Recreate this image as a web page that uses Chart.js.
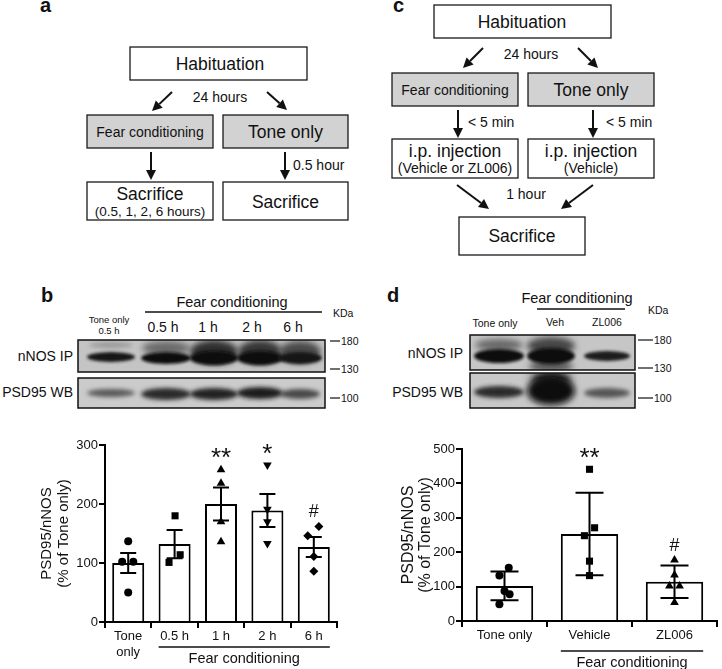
<!DOCTYPE html>
<html>
<head>
<meta charset="utf-8">
<script src="https://cdn.jsdelivr.net/npm/chart.js@4.4.0/dist/chart.umd.min.js"></script>
<style>
  body { margin: 0; background: #fff; width: 722px; height: 669px; position: relative; overflow: hidden;
         font-family: "Liberation Sans", Arial, sans-serif; }
  #fig { position: absolute; left: 0; top: 0; }
  .cv { position: absolute; top: 430px; }
</style>
</head>
<body>
<svg id="fig" width="722" height="669" font-family="Liberation Sans, Arial, sans-serif"></svg>
<canvas id="chartB" class="cv" width="361" height="239" style="left:0"></canvas>
<canvas id="chartD" class="cv" width="361" height="239" style="left:361px"></canvas>
<script>
// ---- data, panel b (mean ± SEM) ----
const bLabels = [['Tone', 'only'], '0.5 h', '1 h', '2 h', '6 h'];
const bMeans = [100, 132, 200, 189, 127];
const bErr = [17, 24, 28, 28, 17];
const bTone = [137, 102, 102, 50];
const bHalf = [180, 114, 101];
const bOne = [258, 235, 170, 136];
const bTwo = [266, 191, 170, 133];
const bSix = [162, 146, 111, 86];
const bSig = ['', '', '**', '*', '#'];
// small horizontal scatter of the dots, in category units
const bToneJit = [0, -0.13, 0.11, 0];
const bHalfJit = [0.01, 0.12, -0.12];
const bOneJit = [0, 0, 0, 0];
const bTwoJit = [0, 0, 0, 0];
const bSixJit = [0.11, -0.13, 0, 0];

// ---- data, panel d (mean ± SD) ----
const dLabels = ['Tone only', 'Vehicle', 'ZL006'];
const dMeans = [102, 253, 114];
const dErr = [42, 120, 47];
const dTone = [155, 132, 87, 78, 49];
const dVeh = [441, 271, 248, 174, 132];
const dZl = [177, 134, 102, 102, 54];
const dSig = ['', '**', '#'];
const dToneJit = [0.05, -0.06, 0, 0.06, -0.06];
const dVehJit = [0, 0.06, -0.06, 0, 0];
const dZlJit = [0, 0, -0.06, 0.06, 0];

// ---------- static parts: flow charts and blots ----------
const NS = 'http://www.w3.org/2000/svg';
const svg = document.getElementById('fig');
const INK = '#111';
const GREY = '#d2d2d2';

function el(tag, attrs, parent) {
    const e = document.createElementNS(NS, tag);
    for (const k in attrs) e.setAttribute(k, attrs[k]);
    (parent || svg).appendChild(e);
    return e;
}
function txt(x, y, s, size, anchor, bold) {
    const t = el('text', { x: x, y: y, 'font-size': size, 'text-anchor': anchor || 'middle',
        'dominant-baseline': 'central', 'font-weight': bold ? 'bold' : 'normal', fill: INK });
    t.textContent = s;
    return t;
}
function box(x1, y1, x2, y2, fill) {
    el('rect', { x: x1, y: y1, width: x2 - x1, height: y2 - y1, fill: fill || '#fff', stroke: '#1a1a1a', 'stroke-width': 1.3 });
}
function arrow(x1, y1, x2, y2) {
    const a = Math.atan2(y2 - y1, x2 - x1), L = 10, W = 5;
    const bx = x2 - L * Math.cos(a), by = y2 - L * Math.sin(a);
    el('line', { x1: x1, y1: y1, x2: bx, y2: by, stroke: INK, 'stroke-width': 2 });
    el('polygon', { points: x2 + ',' + y2 + ' ' + (bx - W * Math.sin(a)) + ',' + (by + W * Math.cos(a)) + ' ' +
        (bx + W * Math.sin(a)) + ',' + (by - W * Math.cos(a)), fill: INK });
}
function hline(x1, x2, y, w) {
    el('line', { x1: x1, y1: y, x2: x2, y2: y, stroke: INK, 'stroke-width': w || 1.5 });
}

// panel a
txt(40, 5, 'a', 20, 'start', true);
box(130, 47, 307, 80); txt(220, 64, 'Habituation', 17.5);
txt(220, 97, '24 hours', 14);
arrow(172, 92, 152, 111); arrow(267, 92, 287, 110);
box(87, 115, 213, 148, GREY); txt(150, 132, 'Fear conditioning', 14);
box(223, 115, 348, 148, GREY); txt(285.5, 132, 'Tone only', 17.5);
arrow(151, 152, 151, 180); arrow(285, 152, 285, 180);
txt(293, 165, '0.5 hour', 14, 'start');
box(87, 182, 213, 220); txt(150, 194, 'Sacrifice', 17.5); txt(150, 211, '(0.5, 1, 2, 6 hours)', 13.5);
box(223, 182, 348, 220); txt(285.5, 202, 'Sacrifice', 17.5);

// panel c
txt(393, 5, 'c', 20, 'start', true);
box(434, 5, 611, 38); txt(522, 22, 'Habituation', 17.5);
txt(531, 54, '24 hours', 14);
arrow(483, 48, 463, 68); arrow(578, 48, 598, 68);
box(392, 73, 518, 106, GREY); txt(455, 90, 'Fear conditioning', 14);
box(528, 73, 654, 106, GREY); txt(591, 90, 'Tone only', 17.5);
arrow(458, 110, 458, 138); txt(468, 122, '< 5 min', 14, 'start');
arrow(593, 110, 593, 138); txt(606, 122, '< 5 min', 14, 'start');
box(392, 139, 518, 178); txt(455, 151, 'i.p. injection', 17.5); txt(455, 168, '(Vehicle or ZL006)', 14);
box(528, 139, 654, 178); txt(591, 151, 'i.p. injection', 17.5); txt(591, 168, '(Vehicle)', 14);
txt(526, 194, '1 hour', 14);
arrow(457, 185, 489, 209); arrow(593, 185, 561, 209);
box(459, 217, 585, 255); txt(522, 236, 'Sacrifice', 17.5);

// blot images (drawn, not data)
const defs = el('defs', {});
let clipN = 0;
function blot(x1, y1, x2, y2, bg, bands) {
    const id = 'clip' + (clipN++);
    const cp = el('clipPath', { id: id }, defs);
    el('rect', { x: x1, y: y1, width: x2 - x1, height: y2 - y1 }, cp);
    const g = el('g', { 'clip-path': 'url(#' + id + ')' });
    el('rect', { x: x1, y: y1, width: x2 - x1, height: y2 - y1, fill: bg }, g);
    for (const b of bands) {
        const fid = 'blur' + (clipN++);
        const f = el('filter', { id: fid, x: '-50%', y: '-50%', width: '200%', height: '200%' }, defs);
        el('feGaussianBlur', { stdDeviation: b[5] }, f);
        el('ellipse', { cx: b[0], cy: b[1], rx: b[2], ry: b[3], fill: b[4], filter: 'url(#' + fid + ')' }, g);
    }
    el('rect', { x: x1, y: y1, width: x2 - x1, height: y2 - y1, fill: 'none', stroke: '#111', 'stroke-width': 1.5 });
}
function marker(x1, x2, y, label) {
    hline(x1, x2, y, 1.2);
    txt(x2 + 1, y, label, 10.5, 'start');
}

// panel b blot
txt(41, 295, 'b', 20, 'start', true);
txt(232, 302, 'Fear conditioning', 14.5);
hline(145, 322, 312);
txt(333, 313, 'KDa', 10.5, 'start');
txt(109, 319, 'Tone only', 9.5); txt(109, 330, '0.5 h', 9.5);
txt(163, 327, '0.5 h', 14); txt(208, 327, '1 h', 14); txt(252, 327, '2 h', 14); txt(293, 327, '6 h', 14);
blot(78, 340, 325, 372, '#c4c4c4', [
    [111, 345, 22, 3, '#999', 2],
    [166, 348, 24, 7, '#6a6a6a', 3], [214, 352, 24, 12, '#2e2e2e', 3], [260, 352, 22, 12, '#353535', 3], [300, 352, 21, 11, '#4a4a4a', 3],
    [111, 357, 24, 5, '#151515', 1.5], [166, 358, 25, 6, '#111', 1.5], [214, 358, 24, 7, '#0a0a0a', 1.5],
    [260, 358, 23, 7, '#0d0d0d', 1.5], [300, 358, 22, 6, '#151515', 1.5]
]);
blot(78, 378, 325, 408, '#cbcbcb', [
    [111, 393, 24, 4, '#5a5a5a', 2], [166, 394, 25, 6, '#2a2a2a', 2], [214, 394, 24, 6, '#222', 2],
    [260, 393, 23, 6, '#1a1a1a', 2], [300, 394, 20, 5, '#4a4a4a', 2]
]);
txt(73, 356, 'nNOS IP', 14, 'end'); txt(73, 392, 'PSD95 WB', 14, 'end');
marker(330, 340, 341, '180'); marker(330, 340, 369, '130'); marker(330, 340, 398, '100');

// panel d blot
txt(387, 295, 'd', 20, 'start', true);
txt(577, 298, 'Fear conditioning', 14.5);
hline(537, 625, 309);
txt(648, 310, 'KDa', 10.5, 'start');
txt(495, 323, 'Tone only', 10.5); txt(555, 322, 'Veh', 10.5); txt(607, 322, 'ZL006', 10.5);
blot(470, 335, 635, 370, '#c6c6c6', [
    [499, 345, 24, 6, '#666', 3], [551, 346, 24, 9, '#444', 3], [551, 366, 22, 6, '#555', 3],
    [499, 356, 25, 7, '#111', 1.5], [551, 356, 24, 8, '#0a0a0a', 1.5], [607, 356, 23, 5, '#1a1a1a', 1.5]
]);
blot(470, 373, 635, 408, '#c8c8c8', [
    [551, 380, 20, 10, '#222', 4],
    [499, 392, 25, 6, '#2a2a2a', 2], [551, 391, 24, 14, '#0a0a0a', 3], [607, 393, 23, 5, '#555', 2]
]);
txt(463, 353, 'nNOS IP', 14, 'end'); txt(463, 392, 'PSD95 WB', 14, 'end');
marker(638, 653, 340, '180'); marker(638, 653, 368, '130'); marker(638, 653, 398, '100');

// ---------- charts ----------
Chart.defaults.font.family = '"Liberation Sans", Arial, sans-serif';
Chart.defaults.color = '#111';

// mean and error bar with caps
const errorBars = {
    id: 'errorBars',
    afterDatasetsDraw(chart, args, opts) {
        const { ctx, scales: { x, y } } = chart;
        ctx.save();
        ctx.strokeStyle = '#000';
        ctx.lineWidth = 2;
        opts.means.forEach((m, i) => {
            const px = x.getPixelForValue(i);
            const top = y.getPixelForValue(m + opts.err[i]);
            const bot = y.getPixelForValue(m - opts.err[i]);
            ctx.beginPath();
            ctx.moveTo(px, top); ctx.lineTo(px, bot);
            ctx.moveTo(px - opts.cap, top); ctx.lineTo(px + opts.cap, top);
            ctx.moveTo(px - opts.cap, bot); ctx.lineTo(px + opts.cap, bot);
            ctx.stroke();
        });
        ctx.restore();
    }
};

// significance marks above the highest dot, and the "Fear conditioning" bracket
const extras = {
    id: 'extras',
    afterDraw(chart, args, opts) {
        const { ctx, scales: { x, y } } = chart;
        ctx.save();
        ctx.fillStyle = '#111';
        ctx.textAlign = 'center';
        ctx.textBaseline = 'alphabetic';
        opts.sig.forEach((s, i) => {
            if (!s) return;
            const top = y.getPixelForValue(Math.max(...opts.groups[i]));
            if (s === '#') {
                ctx.font = '18px "Liberation Sans", Arial, sans-serif';
                ctx.fillText(s, x.getPixelForValue(i), top - 9);
            } else {
                ctx.font = '26px "Liberation Sans", Arial, sans-serif';
                ctx.fillText(s, x.getPixelForValue(i), top - 3.5);
            }
        });
        const bars = chart.getDatasetMeta(chart.data.datasets.length - 1).data;
        const first = bars[opts.from], last = bars[bars.length - 1];
        const x1 = first.x - first.width / 2, x2 = last.x + last.width / 2;
        const ly = x.top + opts.lineGap;
        ctx.strokeStyle = '#111';
        ctx.lineWidth = 1.5;
        ctx.beginPath(); ctx.moveTo(x1, ly); ctx.lineTo(x2, ly); ctx.stroke();
        ctx.font = '14.5px "Liberation Sans", Arial, sans-serif';
        ctx.textBaseline = 'middle';
        ctx.fillText('Fear conditioning', (x1 + x2) / 2, ly + 12);
        ctx.restore();
    }
};

function pointSet(vals, jit, i, style, r, rot) {
    return {
        type: 'scatter', order: 1,
        data: vals.map((v, k) => ({ x: i + jit[k], y: v })),
        pointStyle: style, pointRadius: r, pointRotation: rot || 0,
        backgroundColor: '#000', borderColor: '#000', borderWidth: 0
    };
}

function makeChart(id, cfg) {
    const n = cfg.labels.length;
    const axisGrid = { drawOnChartArea: false, drawTicks: true, tickLength: 6, color: '#000', lineWidth: 2 };
    return new Chart(document.getElementById(id), {
        type: 'bar',
        data: {
            datasets: cfg.points.concat([{
                type: 'bar', order: 2, grouped: false,
                data: cfg.means.map((m, i) => ({ x: i, y: m })),
                backgroundColor: '#fff', borderColor: '#000', borderWidth: 2, borderSkipped: 'bottom',
                barPercentage: cfg.barPct, categoryPercentage: 1
            }])
        },
        options: {
            responsive: false,
            animation: false,
            layout: { padding: cfg.padding },
            scales: {
                x: {
                    type: 'linear', min: -0.5, max: n - 0.5, offset: false,
                    grid: axisGrid,
                    border: { color: '#000', width: 2 },
                    ticks: { color: '#111', font: { size: 13 }, padding: 1, maxRotation: 0, autoSkip: false,
                             callback: v => cfg.labels[v] },
                    afterBuildTicks: s => { s.ticks = cfg.labels.map((_, i) => ({ value: i })); },
                    afterFit: s => { s.height = cfg.xHeight; }
                },
                y: {
                    min: 0, max: cfg.yMax,
                    grid: axisGrid,
                    border: { color: '#000', width: 2 },
                    ticks: { stepSize: 100, color: '#111', font: { size: 13 }, padding: 1 },
                    title: {
                        display: true, text: ['PSD95/nNOS', '(% of Tone only)'], color: '#111',
                        font: { size: cfg.titleSize, lineHeight: 1.1 }, padding: { top: cfg.titlePad, bottom: 0 }
                    },
                    afterFit: s => { s.width = cfg.yWidth; }
                }
            },
            plugins: {
                legend: { display: false },
                tooltip: { enabled: false },
                errorBars: { means: cfg.means, err: cfg.err, cap: cfg.cap },
                extras: { sig: cfg.sig, groups: cfg.groups, from: 1, lineGap: cfg.lineGap }
            }
        },
        plugins: [errorBars, extras]
    });
}

makeChart('chartB', {
    labels: bLabels, means: bMeans, err: bErr, sig: bSig,
    groups: [bTone, bHalf, bOne, bTwo, bSix],
    points: [
        pointSet(bTone, bToneJit, 0, 'circle', 4),
        pointSet(bHalf, bHalfJit, 1, 'rect', 5),
        pointSet(bOne, bOneJit, 2, 'triangle', 5),
        pointSet(bTwo, bTwoJit, 3, 'triangle', 5, 180),
        pointSet(bSix, bSixJit, 4, 'rectRot', 4.5)
    ],
    yMax: 300, barPct: 0.69, cap: 8,
    padding: { top: 15, right: 24, bottom: 0, left: 0 },
    xHeight: 47, yWidth: 105, titleSize: 15, titlePad: 39, lineGap: 25
});

makeChart('chartD', {
    labels: dLabels, means: dMeans, err: dErr, sig: dSig,
    groups: [dTone, dVeh, dZl],
    points: [
        pointSet(dTone, dToneJit, 0, 'circle', 4),
        pointSet(dVeh, dVehJit, 1, 'rect', 5),
        pointSet(dZl, dZlJit, 2, 'triangle', 5)
    ],
    yMax: 500, barPct: 0.675, cap: 14,
    padding: { top: 19, right: 2, bottom: 0, left: 0 },
    xHeight: 48, yWidth: 101, titleSize: 16, titlePad: 38.5, lineGap: 30
});
</script>
</body>
</html>
